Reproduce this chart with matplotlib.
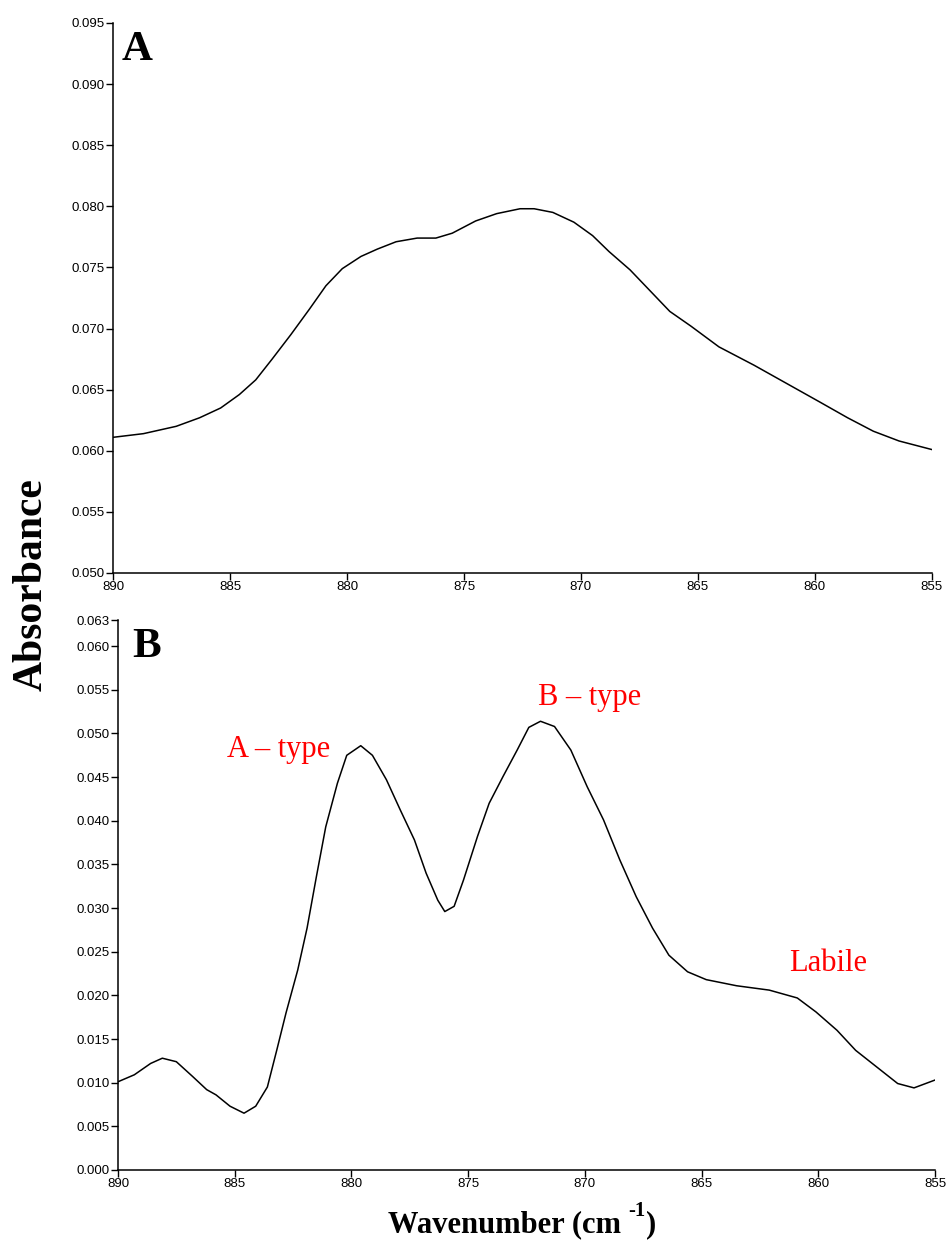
import matplotlib
matplotlib.use('Agg')
import matplotlib.pyplot as plt

plt.rcParams.update({'font.family': 'Liberation Sans'})

# Spectrum A
wn_a = [890.0, 888.7, 887.3, 886.3, 885.4, 884.6, 883.9, 883.2, 882.4, 881.6,
        880.9, 880.2, 879.4, 878.7, 877.9, 877.0, 876.2, 875.5, 874.5, 873.6,
        872.6, 872.0, 871.2, 870.3, 869.5, 868.8, 867.9, 867.1, 866.2, 865.3,
        864.1, 862.6, 861.2, 859.8, 858.6, 857.5, 856.4, 855.0]
abs_a = [0.0611, 0.0614, 0.0620, 0.0627, 0.0635, 0.0646, 0.0658, 0.0675, 0.0695, 0.0716,
         0.0735, 0.0749, 0.0759, 0.0765, 0.0771, 0.0774, 0.0774, 0.0778, 0.0788, 0.0794,
         0.0798, 0.0798, 0.0795, 0.0787, 0.0776, 0.0763, 0.0748, 0.0732, 0.0714, 0.0702,
         0.0685, 0.0670, 0.0655, 0.0640, 0.0627, 0.0616, 0.0608, 0.0601]

# Spectrum B (resolved carbonate bands)
wn_b = [890.0, 889.3, 888.6, 888.1, 887.5, 886.8, 886.2, 885.8, 885.2, 884.6,
        884.1, 883.6, 883.2, 882.8, 882.3, 881.9, 881.5, 881.1, 880.6, 880.2,
        879.6, 879.1, 878.5, 877.9, 877.3, 876.8, 876.3, 876.0, 875.6, 875.2,
        874.6, 874.1, 873.5, 872.9, 872.4, 871.9, 871.3, 870.6, 869.9, 869.2,
        868.5, 867.8, 867.1, 866.4, 865.6, 864.8, 863.5, 862.1, 860.9, 860.1,
        859.2, 858.4, 857.5, 856.6, 855.9, 855.0]
abs_b = [0.0101, 0.0109, 0.0122, 0.0128, 0.0124, 0.0107, 0.0092, 0.0086, 0.0073, 0.0065,
         0.0073, 0.0095, 0.0137, 0.0180, 0.0229, 0.0277, 0.0336, 0.0393, 0.0443, 0.0475,
         0.0486, 0.0475, 0.0447, 0.0412, 0.0378, 0.0340, 0.0309, 0.0296, 0.0302, 0.0332,
         0.0382, 0.0420, 0.0451, 0.0481, 0.0507, 0.0514, 0.0508, 0.0481, 0.0439, 0.0401,
         0.0355, 0.0313, 0.0277, 0.0246, 0.0227, 0.0218, 0.0211, 0.0206, 0.0197, 0.0181,
         0.0160, 0.0137, 0.0118, 0.0099, 0.0094, 0.0103]

x_ticks = [890, 885, 880, 875, 870, 865, 860, 855]
y_ticks_a = [0.050, 0.055, 0.060, 0.065, 0.070, 0.075, 0.080, 0.085, 0.090, 0.095]
y_ticks_b = [0.000, 0.005, 0.010, 0.015, 0.020, 0.025, 0.030, 0.035, 0.040,
             0.045, 0.050, 0.055, 0.060, 0.063]

band_labels = ['A – type', 'B – type', 'Labile']
band_pos = [(883.1, 0.0482), (869.8, 0.0541), (859.6, 0.0236)]

fig = plt.figure(figsize=(9.46, 12.47), dpi=100)
ax1 = fig.add_axes([0.1195, 0.5405, 0.8655, 0.4411])
ax2 = fig.add_axes([0.1247, 0.0618, 0.8637, 0.4410])


def style_axis(ax, yticks):
    for side in ['top', 'right']:
        ax.spines[side].set_visible(False)
    for side in ['left', 'bottom']:
        ax.spines[side].set_linewidth(1.1)
    ax.set_xlim(890, 855)
    ax.set_ylim(yticks[0], yticks[-1])
    ax.set_xticks(x_ticks)
    ax.set_yticks(yticks)
    ax.set_yticklabels([f'{v:.3f}' for v in yticks])
    ax.tick_params(direction='out', length=5, width=1, labelsize=9.5, pad=1)


ax1.plot(wn_a, abs_a, color='black', lw=1.1)
style_axis(ax1, y_ticks_a)
ax1.text(0.01, 0.985, 'A', transform=ax1.transAxes, family='Liberation Serif',
         fontweight='bold', fontsize=31, va='top', ha='left')

ax2.plot(wn_b, abs_b, color='black', lw=1.1)
style_axis(ax2, y_ticks_b)
ax2.text(0.018, 0.985, 'B', transform=ax2.transAxes, family='Liberation Serif',
         fontweight='bold', fontsize=31, va='top', ha='left')

for lab, (xw, ya) in zip(band_labels, band_pos):
    ax2.text(xw, ya, lab, color='red', family='Liberation Serif', fontsize=22,
             ha='center', va='center')

fig.text(0.033, 0.531, 'Absorbance', rotation=90, family='Liberation Serif',
         fontweight='bold', fontsize=30, ha='center', va='center')

# x label with a plain-hyphen superscript, built from three pieces
serif_bold = dict(family='Liberation Serif', fontweight='bold')
t1 = fig.text(0.41, 0.018, 'Wavenumber (cm ', fontsize=22, ha='left', va='center', **serif_bold)
renderer = fig.canvas.get_renderer()
bb = t1.get_window_extent(renderer).transformed(fig.transFigure.inverted())
t2 = fig.text(bb.x1, 0.018 + 0.011, '-1', fontsize=15, ha='left', va='center', **serif_bold)
bb2 = t2.get_window_extent(renderer).transformed(fig.transFigure.inverted())
fig.text(bb2.x1, 0.018, ')', fontsize=22, ha='left', va='center', **serif_bold)

fig.savefig('out.png', dpi=100)
